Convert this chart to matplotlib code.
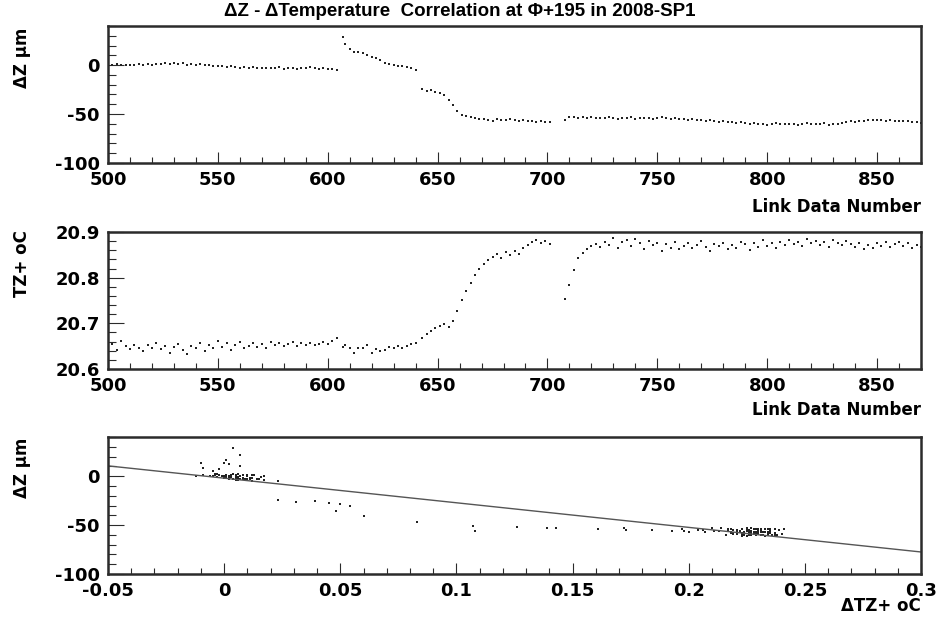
import matplotlib.pyplot as plt
from matplotlib.ticker import MultipleLocator, FuncFormatter

plt.rcParams['font.family'] = ['DejaVu Sans']
plt.rcParams['font.weight'] = 'bold'
plt.rcParams['axes.unicode_minus'] = False

# link data numbers (read every 2nd point, gaps where the run has no data)
link_a = list(range(500, 605, 2))
link_b = [607, 608] + list(range(610, 641, 2))
link_c = list(range(643, 702, 2))
link_d = list(range(708, 871, 2))

# delta Z in micrometres
dz_a = [0.5, 0.2, 0.8, 0.0, 0.6,
        -0.3, 0.4, 0.9, 0.2, 1.2, 0.5, 1.6, 0.8, 1.9, 1.0,
        2.2, 1.4, 2.4, 0.2, 1.1, 0.3, 1.2, 0.6, -0.2, -0.8,
        -1.3, -0.6, -1.8, -1.1, -2.3, -2.7, -1.9, -2.8, -2.2, -3.3,
        -2.6, -3.4, -2.9, -3.1, -2.4, -3.6, -2.8, -3.2, -3.9, -2.7,
        -3.3, -2.2, -3.0, -3.8, -3.1, -3.5, -3.9, -4.6]
dz_b = [28.5, 22.0, 16.5, 13.8, 13.0, 12.2, 10.5, 8.6, 6.9, 4.8,
        2.7, 1.3, 0.4, -0.5, -1.2, -1.9, -2.8, -4.8]
dz_c = [-24.5, -26.8, -25.2, -27.5, -28.6, -30.8, -35.5, -41.0, -46.5, -50.5,
        -52.3, -53.4, -54.0, -55.2, -54.6, -56.1, -56.8, -55.4, -55.9, -56.5,
        -55.3, -56.2, -56.9, -56.0, -57.2, -56.6, -57.8, -57.4, -58.3, -57.9]
dz_d = [-56.0, -53.5,
        -52.8, -54.0, -53.2, -54.1, -53.0, -54.3, -53.6, -54.5, -53.4, -54.0,
        -54.8, -53.7, -54.2, -53.5, -54.6, -53.9, -54.3, -53.6, -54.8, -54.1,
        -53.3, -54.5, -55.0, -54.2, -55.3, -54.6, -55.8, -55.1, -56.2, -55.6,
        -56.8, -56.0, -57.3, -57.9, -57.2, -58.4, -58.0, -59.1, -58.5, -59.6,
        -60.3, -59.4, -60.6, -59.8, -61.0, -60.2, -59.5, -60.6, -59.9, -60.4,
        -59.7, -60.8, -60.1, -59.6, -60.5, -59.8, -60.3, -59.5, -60.7, -59.9,
        -60.4, -58.8, -58.1, -57.4, -58.0, -56.9, -57.3, -56.4, -55.8, -56.5,
        -55.9, -56.8, -56.2, -57.0, -56.6, -57.5, -57.1, -58.3, -58.6, -58.9]

# temperature TZ+ in oC
t_a = [20.648, 20.655, 20.641, 20.662, 20.650,
       20.644, 20.652, 20.646, 20.639, 20.653, 20.647, 20.658, 20.643, 20.651, 20.636,
       20.649, 20.655, 20.641, 20.633, 20.650, 20.645, 20.657, 20.640, 20.652, 20.646,
       20.661, 20.648, 20.656, 20.642, 20.653, 20.659, 20.645, 20.651, 20.657, 20.649,
       20.654, 20.647, 20.660, 20.652, 20.656, 20.650, 20.655, 20.659, 20.651, 20.656,
       20.653, 20.657, 20.652, 20.655, 20.659, 20.654, 20.662, 20.668]
t_b = [20.649, 20.652, 20.646, 20.635, 20.645, 20.647, 20.652, 20.636, 20.643, 20.640,
       20.642, 20.648, 20.645, 20.651, 20.647, 20.650, 20.654, 20.657]
t_c = [20.668, 20.676, 20.684, 20.690, 20.695, 20.699, 20.693, 20.705, 20.728, 20.752,
       20.771, 20.788, 20.806, 20.818, 20.829, 20.838, 20.845, 20.851, 20.843, 20.856,
       20.849, 20.858, 20.852, 20.866, 20.871, 20.879, 20.882, 20.876, 20.880, 20.874]
t_d = [20.753, 20.784,
       20.817, 20.842, 20.855, 20.863, 20.870, 20.874, 20.868, 20.879, 20.872, 20.886,
       20.866, 20.878, 20.882, 20.870, 20.884, 20.875, 20.862, 20.880, 20.871, 20.876,
       20.859, 20.873, 20.866, 20.878, 20.862, 20.870, 20.876, 20.864, 20.872, 20.880,
       20.867, 20.858, 20.874, 20.869, 20.877, 20.863, 20.871, 20.866, 20.879, 20.873,
       20.861, 20.875, 20.868, 20.882, 20.870, 20.877, 20.864, 20.879, 20.871, 20.883,
       20.874, 20.878, 20.869, 20.885, 20.876, 20.881, 20.872, 20.879, 20.868, 20.883,
       20.877, 20.871, 20.880, 20.874, 20.868, 20.876, 20.863, 20.872, 20.866, 20.875,
       20.870, 20.879, 20.867, 20.873, 20.878, 20.869, 20.875, 20.864, 20.872, 20.868]

link = link_a + link_b + link_c + link_d
dz = dz_a + dz_b + dz_c + dz_d
temp = t_a + t_b + t_c + t_d

# reference temperature for delta T, and the straight line fit
t_ref = 20.645
dtemp = [t - t_ref for t in temp]
fit_dt = [-0.05, 0.3]
fit_dz = [10.5, -77.5]

frame = '#2b2b2b'
dot = dict(ls='none', marker='s', ms=1.5, mew=0, color='#222222')
fs = 13
fs_lab = 12

fig = plt.figure(figsize=(9.41, 6.26), dpi=100)


def style(ax, xmaj, xmin, ymaj, ymin, yfmt):
    for s in ax.spines.values():
        s.set_linewidth(1.8)
        s.set_color(frame)
    ax.xaxis.set_major_locator(MultipleLocator(xmaj))
    ax.xaxis.set_minor_locator(MultipleLocator(xmin))
    ax.yaxis.set_major_locator(MultipleLocator(ymaj))
    ax.yaxis.set_minor_locator(MultipleLocator(ymin))
    ax.xaxis.set_major_formatter(FuncFormatter(lambda v, p: f'{round(v, 3):g}'))
    ax.yaxis.set_major_formatter(FuncFormatter(yfmt))
    ax.tick_params(axis='x', which='major', direction='in', length=8, width=0.8,
                   color=frame, labelsize=fs, pad=6)
    ax.tick_params(axis='x', which='minor', direction='in', length=4, width=0.8, color=frame)
    ax.tick_params(axis='y', which='major', direction='in', length=11.5, width=0.8,
                   color=frame, labelsize=fs, pad=6)
    ax.tick_params(axis='y', which='minor', direction='in', length=5.8, width=0.8, color=frame)


left, width, height = 108 / 941, 813 / 941, 137 / 626

# panel 1: delta Z vs link number
ax1 = fig.add_axes([left, 1 - 163 / 626, width, height])
ax1.plot(link, dz, **dot)
ax1.set_xlim(500, 870)
ax1.set_ylim(-100, 40)
style(ax1, 50, 10, 50, 10, lambda v, p: f'{v:g}')

# panel 2: temperature vs link number
ax2 = fig.add_axes([left, 1 - 369 / 626, width, height])
ax2.plot(link, temp, **dot)
ax2.set_xlim(500, 870)
ax2.set_ylim(20.6, 20.9)
style(ax2, 50, 10, 0.1, 0.02, lambda v, p: f'{v:.1f}')

# panel 3: delta Z vs delta T with straight line
ax3 = fig.add_axes([left, 1 - 574 / 626, width, height])
ax3.plot(dtemp, dz, **dot)
ax3.plot(fit_dt, fit_dz, color='#555555', lw=1.0)
ax3.set_xlim(-0.05, 0.3)
ax3.set_ylim(-100, 40)
style(ax3, 0.05, 0.01, 50, 10, lambda v, p: f'{v:g}')

fig.text(460 / 941, 1 - 12 / 626, 'ΔZ - ΔTemperature  Correlation at Φ+195 in 2008-SP1',
         ha='center', va='center', fontsize=13.5, family=['Liberation Sans', 'DejaVu Sans'])
fig.text(921 / 941, 1 - 207 / 626, 'Link Data Number', ha='right', va='center', fontsize=fs_lab)
fig.text(921 / 941, 1 - 410 / 626, 'Link Data Number', ha='right', va='center', fontsize=fs_lab)
fig.text(921 / 941, 1 - 606 / 626, 'ΔTZ+ oC', ha='right', va='center', fontsize=fs_lab)
fig.text(22 / 941, 1 - 28 / 626, 'ΔZ μm', rotation=90, ha='center', va='top', fontsize=fs_lab)
fig.text(22 / 941, 1 - 230 / 626, 'TZ+ oC', rotation=90, ha='center', va='top', fontsize=fs_lab)
fig.text(22 / 941, 1 - 438 / 626, 'ΔZ μm', rotation=90, ha='center', va='top', fontsize=fs_lab)

fig.savefig('out.png', dpi=100)
